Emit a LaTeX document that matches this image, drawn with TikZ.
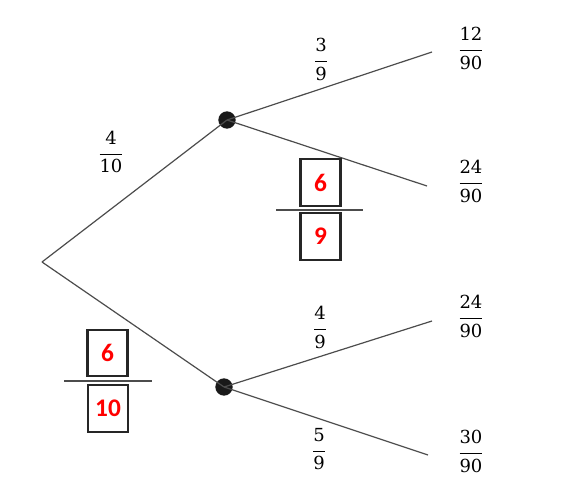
\documentclass[tikz,border=0pt]{standalone}
\usepackage{fontspec}
\newfontfamily\boxfont{Carlito}
\newfontfamily\fracfont{DejaVu Serif}
\newcommand\myfr[2]{$\displaystyle\frac{\raisebox{1.4pt}{\fracfont #1}}{\raisebox{-0.6pt}{\fracfont #2}}$}
\begin{document}
\begin{tikzpicture}[x=0.75pt,y=-0.75pt,
  branch/.style={draw=black!70, line width=0.9pt},
  dot/.style={circle, fill=black!90, inner sep=0pt, minimum size=13pt},
  frac/.style={inner sep=0pt, font=\fontsize{13.5}{16}\selectfont},
  ansbox/.style={draw=black!85, line width=1.6pt, minimum width=30pt, minimum height=35pt, inner sep=0pt, text=red, font=\boxfont\bfseries\fontsize{19}{21}\selectfont},
  barline/.style={draw=black!70, line width=0.9pt}]
\useasboundingbox (0,0) rectangle (587,500);
% tree
\coordinate (root) at (42,262);
\node[dot] (up) at (227,120) {};
\node[dot] (lo) at (224,387) {};
\coordinate (e1) at (432,52);
\coordinate (e2) at (427,186);
\coordinate (e3) at (432,321);
\coordinate (e4) at (428,455);
\draw[branch] (root) -- (up.center);
\draw[branch] (root) -- (lo.center);
\draw[branch] (up.center) -- (e1);
\draw[branch] (up.center) -- (e2);
\draw[branch] (lo.center) -- (e3);
\draw[branch] (lo.center) -- (e4);
% probabilities
\node[frac] (p1) at (111,152) {\myfr{4}{10}};
\node[frac] (p2) at (321,59.5) {\myfr{3}{9}};
\node[frac] (p3) at (320,327.5) {\myfr{4}{9}};
\node[frac] (p4) at (319,449) {\myfr{5}{9}};
% results
\node[frac] (r1) at (471,48.5) {\myfr{12}{90}};
\node[frac] (r2) at (471,181.5) {\myfr{24}{90}};
\node[frac] (r3) at (471,316.5) {\myfr{24}{90}};
\node[frac] (r4) at (471,451.5) {\myfr{30}{90}};
% boxed answers
\node[ansbox] (a1) at (320.5,182.5) {6};
\node[ansbox] (b1) at (320.5,236.5) {9};
\coordinate (l1a) at (276,210);
\coordinate (l1b) at (363,210);
\draw[barline] (l1a) -- (l1b);
\node[ansbox] (a2) at (107.5,353) {6};
\node[ansbox] (b2) at (108,408.5) {10};
\coordinate (l2a) at (64,381);
\coordinate (l2b) at (152,381);
\draw[barline] (l2a) -- (l2b);
\end{tikzpicture}
\end{document}
